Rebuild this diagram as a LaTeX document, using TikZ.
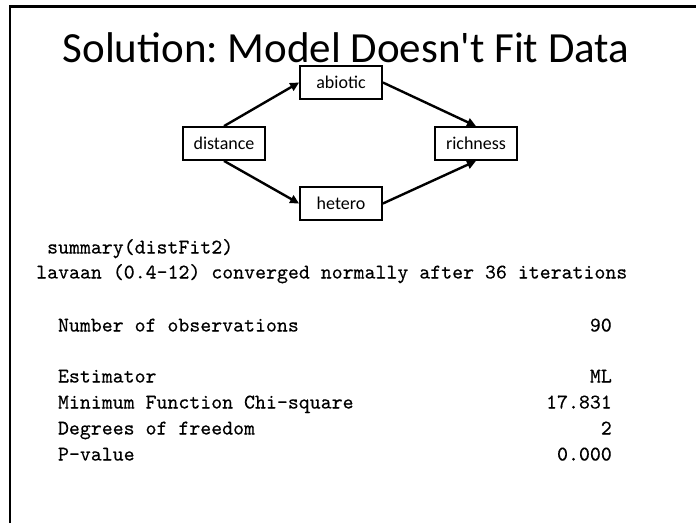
\documentclass[tikz,border=0pt]{standalone}
\usepackage{fontspec}
\setmainfont{Carlito}
\newfontfamily\codefont{lmmono10-regular.otf}[FakeBold=0.35]
\usetikzlibrary{arrows.meta}
\frenchspacing
\begin{document}
\begin{tikzpicture}[x=1pt,y=-1pt,
  box/.style={draw, line width=1.8pt, minimum width=82pt, minimum height=33pt, inner sep=0pt, font=\fontsize{18}{18}\selectfont},
  arr/.style={line width=2.4pt, -{Triangle[length=9pt,width=8.5pt]}},
  code/.style={font=\codefont\fontsize{20.85}{20.85}\selectfont, inner sep=0pt}
]
\useasboundingbox (0,0) rectangle (696,523);
\draw[line width=2.5pt] (10,523) -- (10,6.5) -- (696,6.5);
\node[inner sep=0pt, anchor=base, font=\fontsize{43}{43}\selectfont] (title) at (346,62) {Solution: Model Doesn\textquotesingle t Fit Data};
\node[box] (distance) at (224,143.5) {distance};
\node[box] (abiotic) at (341,82.5) {abiotic};
\node[box] (hetero) at (341,203.5) {hetero};
\node[box] (richness) at (476,143.5) {richness};
\draw[arr] (distance.north) -- (abiotic.west);
\draw[arr] (abiotic.east) -- (richness.north);
\draw[arr] (distance.south) -- (hetero.west);
\draw[arr] (hetero.east) -- (richness.south);
\node[code, anchor=base west] (l1) at (46.9,253.5) {summary(distFit2)};
\node[code, anchor=base west] (l2) at (36,278.5) {lavaan (0.4-12) converged normally after 36 iterations};
\node[code, anchor=base west] (l3) at (57.8,331.5) {Number of observations};
\node[code, anchor=base east] (v3) at (612,331.5) {90};
\node[code, anchor=base west] (l4) at (57.8,382.5) {Estimator};
\node[code, anchor=base east] (v4) at (612,382.5) {ML};
\node[code, anchor=base west] (l5) at (57.8,408.5) {Minimum Function Chi-square};
\node[code, anchor=base east] (v5) at (612,408.5) {17.831};
\node[code, anchor=base west] (l6) at (57.8,434.5) {Degrees of freedom};
\node[code, anchor=base east] (v6) at (612,434.5) {2};
\node[code, anchor=base west] (l7) at (57.8,460.5) {P-value};
\node[code, anchor=base east] (v7) at (612,460.5) {0.000};
\end{tikzpicture}
\end{document}
